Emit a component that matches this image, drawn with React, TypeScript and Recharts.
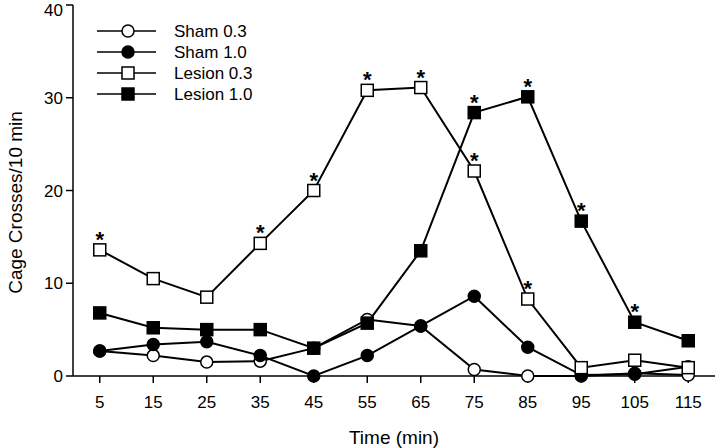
import React from "react";
import { LineChart, Line, XAxis, YAxis } from "recharts";

const times = [5, 15, 25, 35, 45, 55, 65, 75, 85, 95, 105, 115];
const sham03 = [2.7, 2.2, 1.5, 1.6, 3.0, 6.1, 5.4, 0.7, 0, 0, 0.3, 0.1];
const sham10 = [2.7, 3.4, 3.7, 2.2, 0, 2.2, 5.4, 8.6, 3.1, 0.1, 0.2, 1.0];
const lesion03 = [13.6, 10.5, 8.5, 14.3, 20.0, 30.8, 31.1, 22.1, 8.3, 0.9, 1.7, 0.9];
const lesion10 = [6.8, 5.2, 5.0, 5.0, 3.0, 5.7, 13.5, 28.4, 30.1, 16.7, 5.8, 3.8];
const lesion03Sig = [true, false, false, true, true, true, true, true, true, false, false, false];
const lesion10Sig = [false, false, false, false, false, false, false, true, true, true, true, false];
const yTicks = [0, 10, 20, 30, 40];

const data = times.map((t, i) => ({
  t,
  s03: sham03[i],
  s10: sham10[i],
  l03: lesion03[i],
  l10: lesion10[i],
  l03sig: lesion03Sig[i],
  l10sig: lesion10Sig[i],
}));

const FONT = "'Liberation Sans', Arial, Helvetica, sans-serif";

type Shape = "circle" | "square";

function Marker({ cx, cy, shape, filled }: { cx: number; cy: number; shape: Shape; filled: boolean }) {
  const fill = filled ? "#000" : "#fff";
  if (shape === "circle") {
    return <circle cx={cx} cy={cy} r={6} fill={fill} stroke="#000" strokeWidth={1.5} />;
  }
  return <rect x={cx - 6} y={cy - 6} width={12} height={12} fill={fill} stroke="#000" strokeWidth={1.5} />;
}

const makeDot = (shape: Shape, filled: boolean, sigKey?: string) => (props: any) => {
  const { cx, cy, payload, index } = props;
  if (cx == null || cy == null) return <g key={index} />;
  const sig = sigKey ? payload[sigKey] : false;
  return (
    <g key={index}>
      <Marker cx={cx} cy={cy} shape={shape} filled={filled} />
      {sig ? (
        <text x={cx} y={cy - 3} textAnchor="middle" fontFamily={FONT} fontSize={22} fontWeight="bold" fill="#000">
          *
        </text>
      ) : null}
    </g>
  );
};

const legendItems: { label: string; shape: Shape; filled: boolean }[] = [
  { label: "Sham 0.3", shape: "circle", filled: false },
  { label: "Sham 1.0", shape: "circle", filled: true },
  { label: "Lesion 0.3", shape: "square", filled: false },
  { label: "Lesion 1.0", shape: "square", filled: true },
];

function LegendBox() {
  return (
    <svg width={200} height={100} style={{ position: "absolute", left: 95, top: 20 }}>
      {legendItems.map((it, i) => {
        const y = 11 + i * 21;
        return (
          <g key={it.label}>
            <line x1={2} x2={61} y1={y} y2={y} stroke="#000" strokeWidth={1.5} />
            <Marker cx={33} cy={y} shape={it.shape} filled={it.filled} />
            <text x={79} y={y + 6} fontFamily={FONT} fontSize={17} fill="#000">
              {it.label}
            </text>
          </g>
        );
      })}
    </svg>
  );
}

export default function App() {
  return (
    <div style={{ position: "absolute", left: 0, top: 0, width: 720, height: 448, background: "#fff" }}>
      <LineChart width={720} height={448} data={data} margin={{ top: 5, right: 5, bottom: 0, left: 0 }}>
        <XAxis
          dataKey="t"
          type="number"
          domain={[0, 120]}
          ticks={times}
          tickSize={7}
          tickMargin={13}
          tickLine={{ stroke: "#000", strokeWidth: 1.5 }}
          axisLine={{ stroke: "#000", strokeWidth: 1.5 }}
          tick={{ fill: "#000", fontSize: 17, fontFamily: FONT }}
          height={72}
          label={{ value: "Time (min)", position: "insideBottom", offset: 4, fill: "#000", fontSize: 19, fontFamily: FONT }}
        />
        <YAxis
          domain={[0, 40]}
          ticks={yTicks}
          tickSize={7}
          tickMargin={3}
          width={73}
          tickLine={{ stroke: "#000", strokeWidth: 1.5 }}
          axisLine={{ stroke: "#000", strokeWidth: 1.5 }}
          tick={{ fill: "#000", fontSize: 17, fontFamily: FONT }}
          label={{
            value: "Cage Crosses/10 min",
            angle: -90,
            position: "insideLeft",
            offset: 15,
            dy: 12,
            style: { textAnchor: "middle" },
            fill: "#000",
            fontSize: 19,
            fontFamily: FONT,
          }}
        />
        <Line dataKey="s03" stroke="#000" strokeWidth={2} dot={makeDot("circle", false)} activeDot={false} isAnimationActive={false} />
        <Line dataKey="s10" stroke="#000" strokeWidth={2} dot={makeDot("circle", true)} activeDot={false} isAnimationActive={false} />
        <Line dataKey="l03" stroke="#000" strokeWidth={2} dot={makeDot("square", false, "l03sig")} activeDot={false} isAnimationActive={false} />
        <Line dataKey="l10" stroke="#000" strokeWidth={2} dot={makeDot("square", true, "l10sig")} activeDot={false} isAnimationActive={false} />
      </LineChart>
      <LegendBox />
    </div>
  );
}
